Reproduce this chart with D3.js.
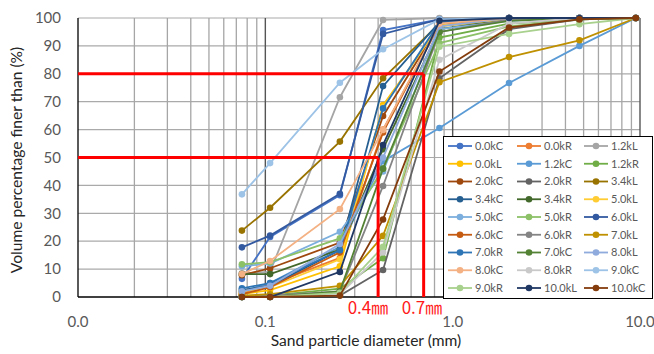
<!DOCTYPE html>
<html><head><meta charset="utf-8">
<script src="https://cdn.jsdelivr.net/npm/d3@7"></script>
<style>body{margin:0;background:#fff}</style>
</head><body><svg id="c" width="654" height="354"></svg>
<script>
const sieveSizes = [0.075, 0.106, 0.25, 0.425, 0.85, 2, 4.75, 9.5];
const seriesNames = ["0.0kC","0.0kR","1.2kL","0.0kL","1.2kC","1.2kR","2.0kC","2.0kR","3.4kL",
  "3.4kC","3.4kR","5.0kL","5.0kC","5.0kR","6.0kL","6.0kC","6.0kR","7.0kL",
  "7.0kR","7.0kC","8.0kL","8.0kC","8.0kR","9.0kC","9.0kR","10.0kL","10.0kC"];
const seriesColors = ["#4472C4","#ED7D31","#A5A5A5","#FFC000","#5B9BD5","#70AD47","#9E480E","#636363","#997300",
  "#255E91","#43682B","#FFCD33","#7CAFDD","#8CC168","#335AA1","#C55A11","#848484","#BF9000",
  "#2E75B6","#548235","#8FAADC","#F4B183","#C9C9C9","#9DC3E6","#A9D18E","#203864","#843C0C"];
const v_00kC = [6.5, 21.5, 36.5, 95.7, 99.5, 100, 100, 100];
const v_00kR = [1.5, 4.5, 14, 60, 97.5, 99.5, 100, 100];
const v_12kL = [8.5, 9, 71.6, 99.3, 100, 100, 100, 100];
const v_00kL = [1, 2.5, 11, 68.8, 97, 99.5, 100, 100];
const v_12kC = [2, 5, 18, 48.7, 60.6, 76.7, 90, 100];
const v_12kR = [0, 0.5, 3, 13.9, 93, 98, 99.5, 100];
const v_20kC = [7.8, 10.3, 19.5, 64.9, 97.5, 99.5, 100, 100];
const v_20kR = [0, 0, 0.5, 9.7, 78.4, 96, 99.5, 100];
const v_34kL = [23.8, 32, 55.7, 78.4, 98, 100, 100, 100];
const v_34kC = [2.5, 4, 16.8, 75.6, 98.5, 100, 100, 100];
const v_34kR = [8.2, 8.2, 17, 53, 96, 99.5, 100, 100];
const v_50kL = [2, 3.5, 13.5, 68, 97.5, 99.5, 100, 100];
const v_50kC = [11, 12, 23.4, 45, 96, 99, 100, 100];
const v_50kR = [11.7, 12.5, 21, 46, 91, 97, 99.5, 100];
const v_60kL = [17.8, 22, 37, 94.3, 99.5, 100, 100, 100];
const v_60kC = [1, 3.5, 16, 59, 98, 100, 100, 100];
const v_60kR = [0, 0.5, 2, 39.8, 95, 99.5, 100, 100];
const v_70kL = [0.5, 1, 4, 21.9, 77, 86, 92, 100];
const v_70kR = [3.1, 5, 16.8, 67.6, 98.5, 100, 100, 100];
const v_70kC = [0, 0, 2, 46, 95, 99, 100, 100];
const v_80kL = [2, 4, 19, 50, 97, 100, 100, 100];
const v_80kC = [8.2, 12.9, 31.5, 59.9, 98, 100, 100, 100];
const v_80kR = [0, 0, 1, 16, 85, 98, 100, 100];
const v_90kC = [36.8, 48, 76.8, 88.8, 99.5, 100, 100, 100];
const v_90kR = [0, 0, 1.5, 18, 89.7, 94.3, 97.8, 100];
const v_100kL = [0, 0, 9, 54.5, 99, 100, 100, 100];
const v_100kC = [0, 0, 0.5, 27.8, 80.8, 96.6, 99.5, 100];
const seriesValues = [v_00kC,v_00kR,v_12kL,v_00kL,v_12kC,v_12kR,v_20kC,v_20kR,v_34kL,
  v_34kC,v_34kR,v_50kL,v_50kC,v_50kR,v_60kL,v_60kC,v_60kR,v_70kL,
  v_70kR,v_70kC,v_80kL,v_80kC,v_80kR,v_90kC,v_90kR,v_100kL,v_100kC];
const yTicks = [0,10,20,30,40,50,60,70,80,90,100];
const xTickValues = [0.01, 0.1, 1, 10];
const xTickLabels = ["0.0","0.1","1.0","10.0"];
const refSizes = [0.4, 0.7];
const refPercents = [50, 80];
const refLabels = ["0.4㎜", "0.7㎜"];

const svg = d3.select("#c");
const L = 78, R = 640, T = 18, B = 297;
const x = d3.scaleLog().domain([0.01, 10]).range([L, R]);
const y = d3.scaleLinear().domain([0, 100]).range([B, T]);
const FONT = "Lato, 'Open Sans', sans-serif";

// gridlines
const minor = [];
[0.01, 0.1, 1].forEach(d => { for (let k = 2; k <= 9; k++) minor.push(d * k); });
const g = svg.append("g");
g.selectAll(".hg").data(yTicks.slice(1)).enter().append("line")
  .attr("x1", L).attr("x2", R).attr("y1", d => y(d)).attr("y2", d => y(d))
  .attr("stroke", "#aaaaaa").attr("stroke-width", 1.2);
g.selectAll(".mg").data(minor).enter().append("line")
  .attr("x1", d => x(d)).attr("x2", d => x(d))
  .attr("y1", T).attr("y2", B).attr("stroke", "#a6a6a6").attr("stroke-width", 1.3);
g.selectAll(".Mg").data(xTickValues.slice(1)).enter().append("line")
  .attr("x1", d => x(d)).attr("x2", d => x(d)).attr("y1", T).attr("y2", B)
  .attr("stroke", "#555").attr("stroke-width", 1.4);
// axes lines
svg.append("line").attr("x1", L).attr("x2", L).attr("y1", T).attr("y2", B).attr("stroke", "#000").attr("stroke-width", 1.3);
svg.append("line").attr("x1", L).attr("x2", R).attr("y1", B).attr("y2", B).attr("stroke", "#000").attr("stroke-width", 1.3);

// tick labels
svg.selectAll(".yt").data(yTicks).enter().append("text")
  .attr("x", 61).attr("y", d => y(d)).attr("dy", "0.35em").attr("text-anchor", "end")
  .attr("font-family", FONT).attr("font-size", 15).attr("fill", "#595959").text(d => d);
svg.selectAll(".xt").data(xTickValues).enter().append("text")
  .attr("x", d => x(d)).attr("y", 327).attr("text-anchor", "middle")
  .attr("font-family", FONT).attr("font-size", 15).attr("fill", "#595959").text((d, i) => xTickLabels[i]);
svg.append("text").attr("x", 366).attr("y", 346).attr("text-anchor", "middle")
  .attr("font-family", FONT).attr("font-size", 15.6).attr("fill", "#262626").text("Sand particle diameter (mm)");
svg.append("text").attr("transform", "translate(22,160) rotate(-90)").attr("text-anchor", "middle")
  .attr("font-family", FONT).attr("font-size", 15.6).attr("fill", "#262626").text("Volume percentage finer than (%)");

// series
const line = d3.line().x((d, i) => x(sieveSizes[i])).y(d => y(d));
const sg = svg.append("g");
seriesValues.forEach((vals, si) => {
  const c = seriesColors[si];
  sg.append("path").attr("d", line(vals)).attr("fill", "none").attr("stroke", c).attr("stroke-width", 1.8);
  sg.selectAll(null).data(vals).enter().append("circle")
    .attr("cx", (d, i) => x(sieveSizes[i])).attr("cy", d => y(d)).attr("r", 3.3).attr("fill", c);
});

// reference red lines
refSizes.forEach((s, i) => {
  svg.append("line").attr("x1", L).attr("x2", x(s)).attr("y1", y(refPercents[i])).attr("y2", y(refPercents[i]))
    .attr("stroke", "#ff0000").attr("stroke-width", 3);
  svg.append("line").attr("x1", x(s)).attr("x2", x(s)).attr("y1", y(refPercents[i])).attr("y2", B)
    .attr("stroke", "#ff0000").attr("stroke-width", 3);
});
const refLabelX = [368, 422];
refLabels.forEach((t, i) => {
  svg.append("text").attr("x", refLabelX[i]).attr("y", 314).attr("text-anchor", "middle")
    .attr("font-family", "'Noto Sans CJK JP', sans-serif").attr("font-size", 17).attr("fill", "#ff1a1a").text(t);
});

// legend
const lg = svg.append("g");
lg.append("rect").attr("x", 443.5).attr("y", 136.5).attr("width", 209).attr("height", 162)
  .attr("fill", "#fff").attr("stroke", "#000").attr("stroke-width", 1);
const colX = [448, 517, 584];
seriesNames.forEach((n, i) => {
  const col = i % 3, row = Math.floor(i / 3);
  const lx = colX[col], ly = 146 + row * 17.75;
  lg.append("line").attr("x1", lx).attr("x2", lx + 24).attr("y1", ly).attr("y2", ly)
    .attr("stroke", seriesColors[i]).attr("stroke-width", 1.8);
  lg.append("circle").attr("cx", lx + 12).attr("cy", ly).attr("r", 3.3).attr("fill", seriesColors[i]);
  lg.append("text").attr("x", lx + 27).attr("y", ly).attr("dy", "0.35em")
    .attr("font-family", FONT).attr("font-size", 11).attr("fill", "#595959").text(n);
});
</script></body></html>
